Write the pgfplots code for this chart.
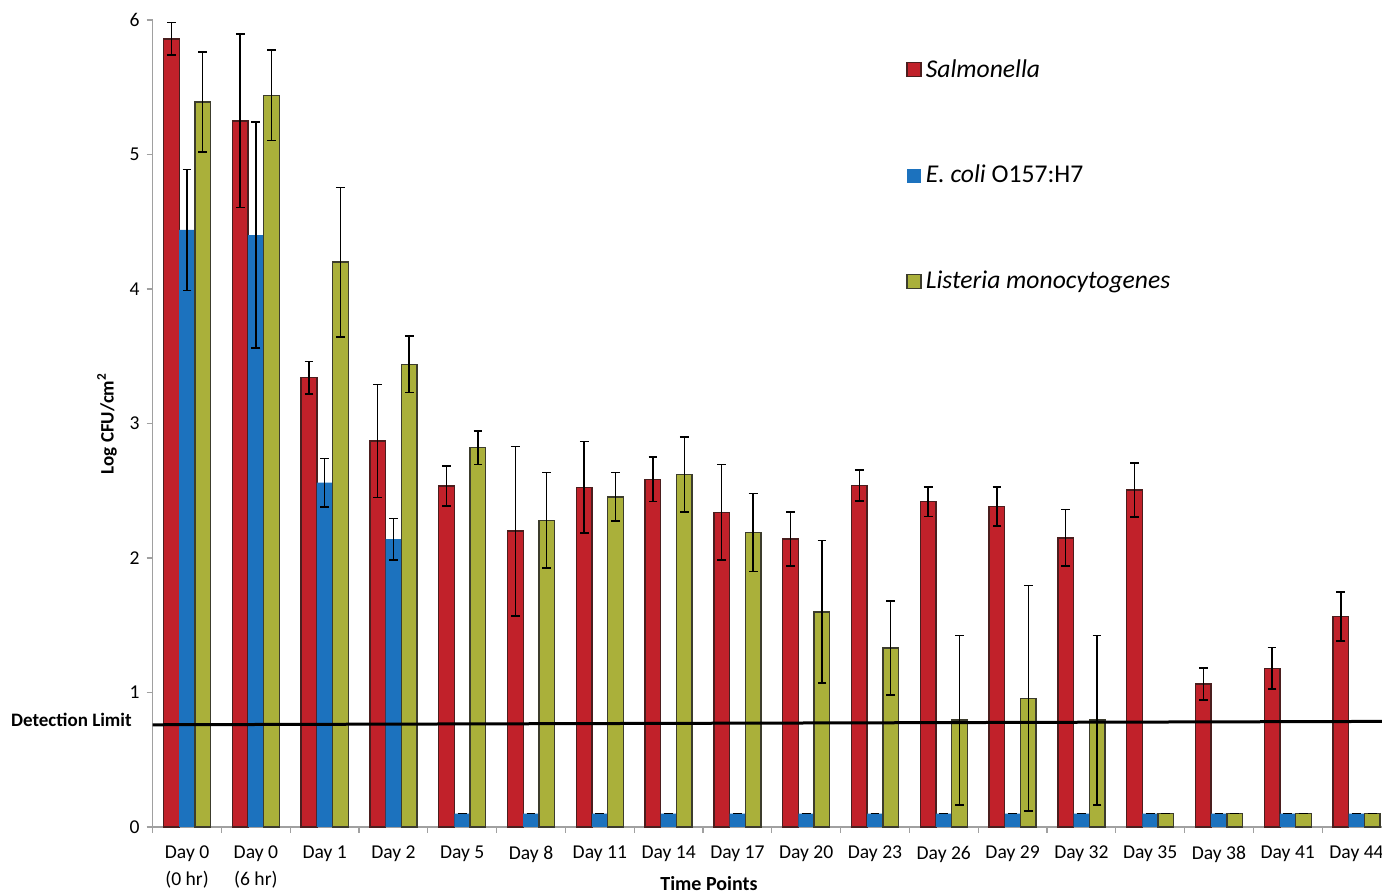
\documentclass[border=0pt]{standalone}
\usepackage{pgfplots}
\pgfplotsset{compat=1.18}
\usepackage{pgfplotstable}
\usepackage{fontspec}
\setmainfont{Carlito}
\definecolor{salm}{RGB}{193,33,42}
\definecolor{salmd}{RGB}{75,30,30}
\definecolor{eco}{RGB}{28,114,190}
\definecolor{lis}{RGB}{170,176,58}
\definecolor{lisd}{RGB}{60,60,45}
\definecolor{axgray}{RGB}{160,160,160}

\pgfplotstableread{
x S Se E Ee L Le
0 5.86 0.12 4.44 0.45 5.39 0.37
1 5.25 0.645 4.40 0.84 5.44 0.335
2 3.34 0.12 2.56 0.18 4.20 0.555
3 2.87 0.42 2.14 0.155 3.44 0.21
4 2.535 0.15 0.1 0 2.82 0.125
5 2.20 0.63 0.1 0 2.28 0.355
6 2.525 0.34 0.1 0 2.455 0.18
7 2.585 0.165 0.1 0 2.62 0.28
8 2.34 0.355 0.1 0 2.19 0.29
9 2.14 0.20 0.1 0 1.60 0.53
10 2.54 0.115 0.1 0 1.33 0.35
11 2.42 0.11 0.1 0 0.795 0.63
12 2.385 0.145 0.1 0 0.957 0.84
13 2.15 0.21 0.1 0 0.795 0.63
14 2.505 0.20 0.1 0 0.1 0
15 1.063 0.12 0.1 0 0.1 0
16 1.18 0.155 0.1 0 0.1 0
17 1.565 0.18 0.1 0 0.1 0
}\datatab

\begin{document}
\begin{tikzpicture}
\useasboundingbox (-76.35pt,-33.5pt) rectangle (614.65pt,413.5pt);
\begin{axis}[
  at={(0pt,0pt)}, anchor=south west,
  scale only axis, width=614.65pt, height=403.5pt,
  xmin=-0.5, xmax=17.37, ymin=0, ymax=6,
  clip=false,
  axis x line*=bottom, axis y line*=left,
  axis line style={axgray, line width=0.8pt},
  tick style={axgray, line width=0.6pt},
  tick align=outside, major tick length=3pt,
  ytick={0,1,2,3,4,5,6},
  xtick={-0.5,0.5,1.5,2.5,3.5,4.5,5.5,6.5,7.5,8.5,9.5,10.5,11.5,12.5,13.5,14.5,15.5,16.5},
  xticklabels={},
  extra x ticks={0,1,2,3,4,5,6,7,8,9,10,11,12,13,14,15,16,17},
  extra x tick labels={{Day 0\\(0 hr)},{Day 0\\(6 hr)},Day 1,Day 2,Day 5,Day 8,Day 11,Day 14,Day 17,Day 20,Day 23,Day 26,Day 29,Day 32,Day 35,Day 38,Day 41,Day 44},
  extra x tick style={major tick length=0pt},
  xticklabel style={align=center, font=\fontsize{9.8}{13.5}\selectfont, yshift=-6pt},
  yticklabel style={font=\fontsize{9.8}{12}\selectfont},
  /pgf/number format/assume math mode=true,
  ylabel={Log CFU/cm\textsuperscript{2}},
  ylabel style={at={(axis description cs:-0.0372,0.5)}, anchor=center, font=\bfseries\fontsize{9.5}{11}\selectfont},
  xlabel={Time Points},
  xlabel style={at={(axis description cs:0.4525,0)}, anchor=center, yshift=-28.5pt, font=\bfseries\fontsize{10}{12}\selectfont},
  legend style={at={(axis description cs:0.6128,0.9567)}, anchor=north west, draw=none, fill=none,
    font=\fontsize{12.8}{15}\selectfont, row sep=38.5pt, inner sep=0pt},
  legend cell align=left,
  legend image code/.code={\path[#1] (0pt,-3.5pt) rectangle (7pt,3.5pt);},
  ebar/.style={error bars/y dir=both, error bars/y explicit,
    error bars/error bar style={black, line width=0.7pt},
    error bars/error mark options={black, line width=0.8pt, mark size=2.2pt, rotate=90}},
]
\addplot[ybar, bar width=0.228, bar shift=0, fill=salm, draw=salmd, line width=0.7pt, ebar]
  table[x expr=\thisrow{x}-0.228, y=S, y error=Se] {\datatab};
\addlegendentry{\textit{Salmonella}}
\addplot[ybar, bar width=0.228, bar shift=0, fill=eco, draw=none, ebar]
  table[x=x, y=E, y error=Ee] {\datatab};
\addlegendentry{\textit{E. coli} O157:H7}
\addplot[ybar, bar width=0.228, bar shift=0, fill=lis, draw=lisd, line width=0.7pt, ebar]
  table[x expr=\thisrow{x}+0.228, y=L, y error=Le] {\datatab};
\addlegendentry{\textit{Listeria monocytogenes}}
\addplot[black, line width=1.5pt, forget plot] coordinates {(-0.5,0.76) (17.37,0.785)};
\node[anchor=east, xshift=-10.3pt, inner sep=0pt, font=\bfseries\fontsize{9.5}{11}\selectfont] at (axis cs:-0.5,0.80) {Detection Limit};
\end{axis}
\end{tikzpicture}
\end{document}
